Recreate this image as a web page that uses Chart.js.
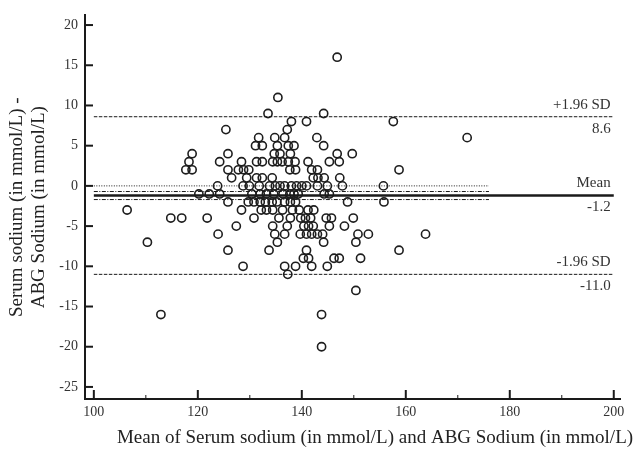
<!DOCTYPE html>
<html>
<head>
<meta charset="utf-8">
<script src="https://cdn.jsdelivr.net/npm/chart.js@4.4.0/dist/chart.umd.min.js"></script>
<style>
  html, body { margin: 0; padding: 0; background: #fff; }
</style>
</head>
<body>
<canvas id="baChart" width="636" height="452"></canvas>
<script>
// Bland-Altman: serum vs ABG sodium
const diffLevels = [16, 11, 9, 8, 7, 6, 5, 4, 3, 2, 1, 0, -1, -2, -3, -4, -5, -6, -7, -8, -9, -10, -11, -13, -16, -20];
const meansByLevel = [
  [146.8],
  [135.4],
  [133.5, 144.2],
  [138.0, 140.9, 157.6],
  [125.4, 137.2],
  [131.7, 134.8, 136.7, 142.9, 171.8],
  [131.1, 132.4, 135.3, 137.4, 138.5, 144.2],
  [118.9, 125.8, 134.7, 135.8, 137.8, 146.8, 149.7],
  [118.3, 124.2, 128.4, 131.3, 132.4, 134.4, 135.3, 136.2, 137.4, 138.7, 141.2, 145.3, 147.2],
  [117.7, 118.9, 125.8, 127.8, 128.8, 129.8, 137.7, 138.8, 141.9, 143.0, 158.7],
  [126.5, 129.4, 131.3, 132.4, 134.3, 142.2, 143.1, 144.3, 147.3],
  [123.8, 128.7, 129.9, 131.8, 133.8, 134.9, 135.8, 136.7, 138.0, 139.0, 140.0, 140.9, 143.0, 144.9, 147.8, 155.7],
  [120.2, 122.2, 124.2, 130.4, 132.0, 133.2, 134.6, 136.4, 137.7, 138.5, 139.3, 144.3, 145.3],
  [125.8, 129.7, 130.8, 132.0, 133.0, 134.3, 135.2, 136.7, 137.8, 138.8, 148.8, 155.8],
  [106.4, 128.4, 132.2, 133.2, 134.4, 136.3, 138.2, 139.5, 141.2, 142.3],
  [114.8, 116.9, 121.8, 130.8, 135.6, 137.8, 139.8, 140.7, 141.7, 144.7, 145.7, 149.9],
  [127.4, 134.4, 137.2, 140.4, 141.3, 142.2, 145.3, 148.2],
  [123.9, 134.8, 136.7, 139.7, 140.9, 141.9, 143.0, 144.0, 150.8, 152.8, 163.8],
  [110.3, 135.3, 144.2, 150.4],
  [125.8, 133.7, 140.9, 158.7],
  [140.3, 141.3, 146.2, 147.2, 151.3],
  [128.7, 136.7, 138.8, 141.9, 144.9],
  [137.3],
  [150.4],
  [112.9, 143.8],
  [143.8],
];

const meanDiff = -1.2;
const upperLoA = 8.6;
const lowerLoA = -11.0;
const meanCI = [-0.7, -1.7];
const xTicks = [100, 120, 140, 160, 180, 200];
const xMinorTicks = [110, 130, 150, 170, 190];
const yTicks = [-25, -20, -15, -10, -5, 0, 5, 10, 15, 20];
const lineRange = [100, 200];
const ciRange = [100, 176];

const serif = '"Liberation Serif", "Times New Roman", serif';
const ink = "#1a1a1a";

const points = [];
diffLevels.forEach((d, i) => {
  meansByLevel[i].forEach((m) => points.push({ x: m, y: d }));
});

function hLine(y, range, width, dash) {
  return {
    data: [{ x: range[0], y: y }, { x: range[1], y: y }],
    showLine: true,
    pointRadius: 0,
    borderColor: ink,
    borderWidth: width,
    borderDash: dash,
    fill: false,
  };
}

const lineLabels = {
  id: "lineLabels",
  afterDraw(chart) {
    const { ctx, scales } = chart;
    const xs = scales.x, ys = scales.y;
    const left = chart.chartArea.left, bottom = chart.chartArea.bottom;
    ctx.save();
    ctx.strokeStyle = ink;
    // inward ticks
    ctx.lineWidth = 2;
    yTicks.forEach((v) => {
      const py = ys.getPixelForValue(v);
      ctx.beginPath();
      ctx.moveTo(left, py);
      ctx.lineTo(left + 8, py);
      ctx.stroke();
    });
    xTicks.forEach((v) => {
      const px = xs.getPixelForValue(v);
      ctx.beginPath();
      ctx.moveTo(px, bottom);
      ctx.lineTo(px, bottom - 9);
      ctx.stroke();
    });
    ctx.lineWidth = 1;
    xMinorTicks.forEach((v) => {
      const px = xs.getPixelForValue(v);
      ctx.beginPath();
      ctx.moveTo(px, bottom);
      ctx.lineTo(px, bottom - 4);
      ctx.stroke();
    });

    // labels on the reference lines
    ctx.fillStyle = "#333";
    ctx.font = "15px " + serif;
    ctx.textAlign = "right";
    ctx.textBaseline = "middle";
    const tx = xs.getPixelForValue(199.4);
    const rows = [
      [upperLoA, "+1.96 SD", upperLoA.toFixed(1)],
      [meanDiff, "Mean", meanDiff.toFixed(1)],
      [lowerLoA, "-1.96 SD", lowerLoA.toFixed(1)],
    ];
    rows.forEach(([v, above, below]) => {
      const py = ys.getPixelForValue(v);
      ctx.fillText(above, tx, py - 12);
      ctx.fillText(below, tx, py + 12);
    });

    // x axis title
    ctx.fillStyle = "#222";
    ctx.font = "19px " + serif;
    ctx.textAlign = "center";
    ctx.fillText("Mean of Serum sodium (in mmol/L) and ABG Sodium (in mmol/L)", 375, 438);
    ctx.restore();
  },
};

new Chart(document.getElementById("baChart"), {
  type: "scatter",
  data: {
    datasets: [
      hLine(0, ciRange, 1, [1, 1.5]),
      hLine(meanCI[0], ciRange, 1, [4, 1.5, 1, 1.5]),
      hLine(meanCI[1], ciRange, 1, [4, 1.5, 1, 1.5]),
      hLine(upperLoA, lineRange, 1, [3.5, 1.5]),
      hLine(lowerLoA, lineRange, 1, [3.5, 1.5]),
      hLine(meanDiff, lineRange, 2.4, []),
      {
        data: points,
        pointRadius: 4.1,
        pointBorderWidth: 1.6,
        pointBorderColor: "#1e1e1e",
        pointBackgroundColor: "rgba(0,0,0,0)",
      },
    ],
  },
  options: {
    responsive: false,
    animation: false,
    layout: { padding: { top: 10, right: 16, bottom: 0, left: 0 } },
    plugins: { legend: { display: false }, tooltip: { enabled: false } },
    scales: {
      x: {
        type: "linear",
        min: 98.3,
        max: 201.2,
        afterBuildTicks: (s) => { s.ticks = xTicks.map((v) => ({ value: v })); },
        afterFit: (s) => { s.height = 53; },
        grid: { display: true, drawOnChartArea: false, drawTicks: false },
        border: { display: true, color: ink, width: 2 },
        ticks: { color: "#333", font: { family: serif, size: 14 }, padding: 5, maxRotation: 0 },
      },
      y: {
        min: -26.5,
        max: 21.2,
        afterBuildTicks: (s) => { s.ticks = yTicks.map((v) => ({ value: v })); },
        afterFit: (s) => { s.width = 85; },
        grid: { display: true, drawOnChartArea: false, drawTicks: false },
        border: { display: true, color: ink, width: 2 },
        ticks: { color: "#333", font: { family: serif, size: 14 }, padding: 7 },
        title: {
          display: true,
          text: ["Serum sodium (in mmol/L) -", "ABG Sodium (in mmol/L)"],
          color: "#222",
          font: { family: serif, size: 19, lineHeight: 1.15 },
          padding: { top: 6, bottom: 0 },
        },
      },
    },
  },
  plugins: [lineLabels],
});
</script>
</body>
</html>
